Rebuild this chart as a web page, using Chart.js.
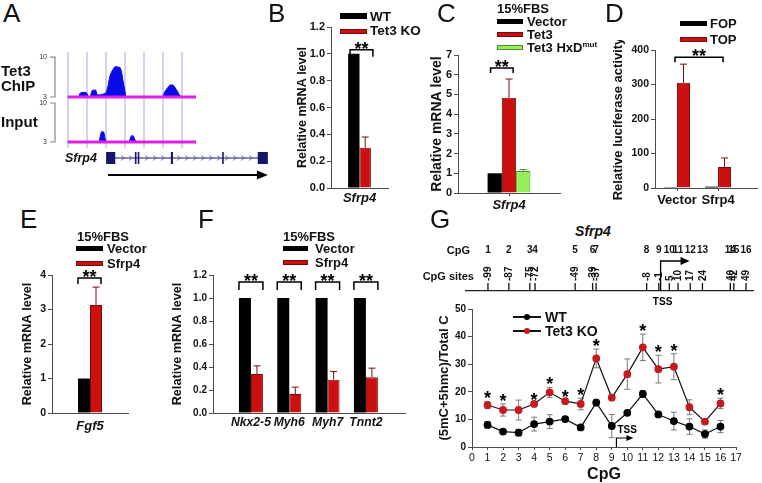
<!DOCTYPE html>
<html>
<head>
<meta charset="utf-8">
<script src="https://cdn.jsdelivr.net/npm/chart.js@4.4.1/dist/chart.umd.min.js"></script>
<style>
  body { margin: 0; background: #fff; }
  #fig { position: relative; width: 762px; height: 483px; overflow: hidden; background: #fff;
         font-family: "Liberation Sans", Arial, sans-serif; color: #111; }
  #fig canvas { position: absolute; }
  .t { position: absolute; line-height: 1; white-space: nowrap; }
  .sw { position: absolute; box-sizing: border-box; }
</style>
</head>
<body>
<div id="fig">
  <canvas id="chip"></canvas>
  <canvas id="input"></canvas>
  <canvas id="gene"></canvas>
  <canvas id="panelB"></canvas>
  <canvas id="panelC"></canvas>
  <canvas id="panelD"></canvas>
  <canvas id="panelE"></canvas>
  <canvas id="panelF"></canvas>
  <canvas id="cpgMap"></canvas>
  <canvas id="panelG"></canvas>
</div>
<script>
// ---------- data ----------

// A: Tet3 ChIP / input signal along the Sfrp4 locus
const trackTicks = [3, 10]
const trackGrid = [0, 10, 20, 30, 40, 50, 60]
const chipPos = [0, 5.8, 6.3, 7.2, 9.6, 10.3, 10.8, 11.9, 12.4, 13.0, 14.7, 15.4, 16.5, 18.5, 20.0, 20.6, 21.3, 22.1, 23.0, 23.9,
                 24.7, 26.2, 27.7, 28.5, 29.1, 30.0, 30.5, 49.8, 50.5, 51.0, 52.0, 53.7, 55.4, 56.5, 57.2, 58.6, 59.8, 67.4]
const chipSignal = [3, 3, 3.6, 3.8, 3.8, 3.5, 3, 3, 3.8, 4.2, 4.2, 3.4, 3.35, 3.5, 3.65, 4.2, 5.2, 6.6, 7.4, 7.9,
                    8.3, 8.3, 8.1, 7.0, 5.7, 4.2, 3, 3, 3.5, 3.9, 4.4, 5.1, 5.1, 4.6, 4.2, 3.4, 3, 3]
const inputPos = [0, 16.5, 17.0, 17.7, 18.9, 19.5, 20.0, 32.3, 32.9, 33.5, 34.4, 35.2, 35.8, 67.4]
const inputSignal = [3, 3, 3.9, 4.85, 4.8, 3.8, 3, 3, 3.7, 4.13, 4.1, 3.5, 3, 3]
const exonStart = [20.1, 35.2, 36.7, 54.1, 81.0, 99.7]
const exonEnd = [24.9, 36.0, 37.5, 55.2, 81.5, 105.0]

// B
const bGenes = ['Sfrp4']
const bWT = [1.0]
const bKO = [0.30]
const bKOErr = [0.08]

// C
const cGenes = ['Sfrp4']
const cVector = [1.0]
const cTet3 = [4.83]
const cTet3Err = [0.95]
const cMut = [1.12]
const cMutErr = [0.07]

// D
const dGroups = ['Vector', 'Sfrp4']
const dFOP = [0.5, 4]
const dTOP = [305, 61]
const dTOPErr = [54, 26]

// E
const eGenes = ['Fgf5']
const eVector = [1.0]
const eSfrp4 = [3.13]
const eSfrp4Err = [0.52]

// F
const fGenes = ['Nkx2-5', 'Myh6', 'Myh7', 'Tnnt2']
const fVector = [1, 1, 1, 1]
const fSfrp4 = [0.34, 0.165, 0.29, 0.31]
const fSfrp4Err = [0.07, 0.06, 0.07, 0.08]

// G
const cpgNum = [1, 2, 3, 4, 5, 6, 7, 8, 9, 10, 11, 12, 13, 14, 15, 16]
const cpgSite = [-99, -87, -75, -72, -49, -39, -37, -8, -1, 5, 10, 17, 24, 40, 42, 49]
const gWT = [8.0, 5.6, 5.2, 8.3, 9.2, 10.1, 7.1, 16.1, 7.6, 12.4, 19.2, 11.8, 9.4, 7.4, 4.7, 7.4]
const gWTErr = [1.2, 0.5, 1.2, 2.5, 2.5, 0.8, 0.8, 1.2, 4.2, 0.5, 1.2, 0.5, 3.2, 2.8, 1.5, 2.2]
const gKO = [15.2, 13.4, 13.4, 15.6, 19.8, 16.6, 15.6, 32.1, 17.9, 26.4, 36.1, 28.2, 29.1, 14.4, 9.2, 15.8]
const gKOErr = [1.3, 2.2, 3.6, 0.5, 1.8, 0.6, 2.1, 3.4, 1.1, 5.5, 4.8, 5.0, 4.7, 2.7, 0.8, 1.9]
const gSignificant = [1, 2, 4, 5, 6, 7, 8, 11, 12, 13, 16]
const tssCpG = 9.3

// ---------- look ----------
const FONT = '"Liberation Sans", Arial, sans-serif'
const RED = '#cc1010', RED_EDGE = '#7a0a0a'
const GREEN = '#93f05a', GREEN_EDGE = '#4c8c2c'
const AXIS = '#4d4d4d'
const BLUE = '#0b0be8', MAGENTA = '#e01ee6', NAVY = '#15156e'

Chart.defaults.animation = false
Chart.defaults.font.family = FONT
Chart.defaults.color = '#111'
Chart.defaults.plugins.legend.display = false
Chart.defaults.plugins.tooltip.enabled = false

const fig = document.getElementById('fig')

// place a canvas so its chart area lands on `area`
function mount(id, area, yW, xH, pad) {
  const c = document.getElementById(id)
  const left = area.l - yW - pad.left
  const top = area.t - pad.top
  const w = area.r + pad.right - left
  const h = area.b + xH + pad.bottom - top
  c.width = w
  c.height = h
  Object.assign(c.style, { left: left + 'px', top: top + 'px', width: w + 'px', height: h + 'px' })
  return c
}

function text(html, x, y, size, opt = {}) {
  const d = document.createElement('div')
  d.className = 't'
  d.innerHTML = html
  d.style.fontSize = size + 'px'
  d.style.top = (y - size / 2) + 'px'
  d.style.fontWeight = opt.bold === false ? 'normal' : 'bold'
  if (opt.italic) d.style.fontStyle = 'italic'
  if (opt.align === 'right') d.style.right = (762 - x) + 'px'
  else if (opt.align === 'center') { d.style.left = x + 'px'; d.style.transform = 'translateX(-50%)' }
  else d.style.left = x + 'px'
  fig.appendChild(d)
}

function swatch(x0, x1, y, color, edge, h = 5) {
  const d = document.createElement('div')
  d.className = 'sw'
  Object.assign(d.style, { left: x0 + 'px', top: (y - h / 2) + 'px', width: (x1 - x0) + 'px', height: h + 'px',
    background: color, border: edge ? '1px solid ' + edge : 'none' })
  fig.appendChild(d)
}

function dot(x, y, r, color) {
  const d = document.createElement('div')
  d.className = 'sw'
  Object.assign(d.style, { left: (x - r) + 'px', top: (y - r) + 'px', width: 2 * r + 'px', height: 2 * r + 'px',
    background: color, borderRadius: '50%' })
  fig.appendChild(d)
}

function valueAxis(min, max, step, tickSize, title, titleSize, width, titleGap, fmt) {
  const lh = titleSize * 1.2
  return {
    min, max,
    ticks: { stepSize: step, font: { size: tickSize, weight: 'bold' }, padding: 2, callback: fmt },
    grid: { drawOnChartArea: false, tickLength: 4, color: AXIS },
    border: { color: AXIS },
    title: { display: true, text: title, font: { size: titleSize, weight: 'bold' },
             padding: { top: width - titleGap - lh / 2, bottom: 0 } },
    afterFit: s => { s.width = width }
  }
}

function catAxis(height, pad, tickMark, italic, size = 13) {
  return {
    grid: { display: tickMark > 0, drawOnChartArea: false, tickLength: tickMark, offset: false, color: AXIS },
    border: { color: AXIS },
    ticks: { font: { size, weight: 'bold', style: italic ? 'italic' : 'normal' }, padding: pad,
             autoSkip: false, maxRotation: 0, minRotation: 0 },
    afterFit: s => { s.height = height }
  }
}

function groupAxis(labels, min, max, height, pad, tickMark, italic, size = 13) {
  const a = catAxis(height, pad, tickMark, italic, size)
  a.type = 'linear'
  a.min = min
  a.max = max
  a.offset = false
  a.ticks.callback = v => labels[v]
  a.afterBuildTicks = s => { s.ticks = labels.map((l, i) => ({ value: i })) }
  return a
}

function bars(label, values, color, edge, errors, linear) {
  return {
    label,
    data: linear ? values.map((v, i) => ({ x: i, y: v })) : values,
    backgroundColor: color,
    borderColor: edge || color,
    borderWidth: edge ? 1 : 0,
    errors,
    errorColor: edge || '#000'
  }
}

const yOf = v => (typeof v === 'object' ? v.y : v)

// upward error bars on bar charts
const errorBars = {
  id: 'errorBars',
  afterDatasetsDraw(chart) {
    const { ctx, scales: { y } } = chart
    chart.data.datasets.forEach((ds, di) => {
      if (!ds.errors) return
      chart.getDatasetMeta(di).data.forEach((bar, i) => {
        const top = y.getPixelForValue(yOf(ds.data[i]) + ds.errors[i])
        ctx.save()
        ctx.strokeStyle = ds.errorColor
        ctx.lineWidth = 1
        ctx.beginPath()
        ctx.moveTo(bar.x, bar.y)
        ctx.lineTo(bar.x, top)
        ctx.moveTo(bar.x - 3.5, top)
        ctx.lineTo(bar.x + 3.5, top)
        ctx.stroke()
        ctx.restore()
      })
    })
  }
}

// significance brackets between two bars
function makeBrackets(cfg) {
  return {
    id: 'brackets',
    afterDatasetsDraw(chart) {
      const { ctx, scales: { y } } = chart
      ctx.save()
      ctx.strokeStyle = '#000'
      ctx.fillStyle = '#000'
      ctx.lineWidth = 1.5
      ctx.font = 'bold 18px ' + FONT
      ctx.textAlign = 'center'
      ctx.textBaseline = 'alphabetic'
      cfg.items.forEach(b => {
        const ends = [b.from, b.to].map(([d, i]) => {
          const ds = chart.data.datasets[d]
          const v = yOf(ds.data[i]) + (ds.errors ? ds.errors[i] : 0)
          return { bar: chart.getDatasetMeta(d).data[i], top: y.getPixelForValue(v) }
        })
        const x0 = ends[0].bar.x - ends[0].bar.width / 2 + cfg.inset[0]
        const x1 = ends[1].bar.x + ends[1].bar.width / 2 - cfg.inset[1]
        const by = Math.min(ends[0].top, ends[1].top) - cfg.gap
        ctx.beginPath()
        ctx.moveTo(x0, by + cfg.leg)
        ctx.lineTo(x0, by)
        ctx.lineTo(x1, by)
        ctx.lineTo(x1, by + cfg.leg)
        ctx.stroke()
        ctx.fillText('**', (x0 + x1) / 2, by + 5)
      })
      ctx.restore()
    }
  }
}

// ---------- panel A: browser tracks ----------
const trackBracket = {
  id: 'trackBracket',
  afterDraw(chart) {
    const { ctx, chartArea: a, scales: { y } } = chart
    const x = a.left - 9
    const t = y.getPixelForValue(trackTicks[1]), b = y.getPixelForValue(trackTicks[0])
    ctx.save()
    ctx.strokeStyle = '#8a8a8a'
    ctx.lineWidth = 1.2
    ctx.beginPath()
    ctx.moveTo(x - 5, t); ctx.lineTo(x, t); ctx.lineTo(x, b); ctx.lineTo(x - 5, b)
    ctx.stroke()
    ctx.restore()
  }
}

function track(id, top, bottom, pos, signal, yMin, yMax) {
  const end = pos[pos.length - 1]
  new Chart(mount(id, { l: 64, r: 196, t: top, b: bottom }, 34, 0, { left: 0, right: 2, top: 7, bottom: 7 }), {
    type: 'scatter',
    data: { datasets: [
      { data: [{ x: pos[0], y: trackTicks[0] }, { x: end, y: trackTicks[0] }], showLine: true, pointRadius: 0,
        borderColor: MAGENTA, borderWidth: 3 },
      { data: pos.map((p, i) => ({ x: p, y: signal[i] })), showLine: true, pointRadius: 0, tension: 0,
        borderColor: BLUE, borderWidth: 1, backgroundColor: BLUE, fill: { value: trackTicks[0] } }
    ] },
    options: {
      responsive: false,
      layout: { padding: { left: 0, right: 2, top: 7, bottom: 7 } },
      scales: {
        x: { type: 'linear', min: -2, max: end,
             ticks: { display: false }, border: { display: false },
             grid: { color: 'rgba(165,165,235,0.5)', lineWidth: 2, drawTicks: false },
             afterBuildTicks: s => { s.ticks = trackGrid.map(v => ({ value: v })) },
             afterFit: s => { s.height = 0 } },
        y: { min: yMin, max: yMax,
             ticks: { font: { size: 7 }, color: '#333', padding: 2 },
             grid: { drawOnChartArea: false, tickLength: 15, color: 'rgba(0,0,0,0)' },
             border: { display: false },
             afterBuildTicks: s => { s.ticks = trackTicks.map(v => ({ value: v })) },
             afterFit: s => { s.width = 34 } }
      }
    },
    plugins: [trackBracket]
  })
}
track('chip', 52, 100, chipPos, chipSignal, 2.47, 10.9)
track('input', 100, 148, inputPos, inputSignal, 1.92, 10.54)

const geneModel = {
  id: 'geneModel',
  afterDraw(chart) {
    const { ctx, scales: { x, y } } = chart
    const gy = y.getPixelForValue(0.73), ay = y.getPixelForValue(0.27)
    const g0 = x.getPixelForValue(exonStart[0]), g1 = x.getPixelForValue(exonEnd[exonEnd.length - 1])
    const spans = exonStart.map((s, i) => [x.getPixelForValue(s), x.getPixelForValue(exonEnd[i])])
    ctx.save()
    ctx.strokeStyle = NAVY
    ctx.lineWidth = 1.2
    ctx.beginPath(); ctx.moveTo(g0, gy); ctx.lineTo(g1, gy); ctx.stroke()
    ctx.strokeStyle = '#5555a8'
    ctx.lineWidth = 0.9
    for (let px = g0 + 9; px < g1 - 4; px += 8) {
      if (spans.some(([a, b]) => px > a - 3 && px < b + 3)) continue
      ctx.beginPath(); ctx.moveTo(px - 2, gy - 2.5); ctx.lineTo(px + 1, gy); ctx.lineTo(px - 2, gy + 2.5); ctx.stroke()
    }
    ctx.fillStyle = NAVY
    spans.forEach(([a, b]) => ctx.fillRect(a, gy - 6, Math.max(b - a, 1.6), 12))
    ctx.strokeStyle = '#000'
    ctx.fillStyle = '#000'
    ctx.lineWidth = 2
    ctx.beginPath(); ctx.moveTo(g0 + 2, ay); ctx.lineTo(g1 - 8, ay); ctx.stroke()
    ctx.beginPath(); ctx.moveTo(g1, ay); ctx.lineTo(g1 - 11, ay - 4.5); ctx.lineTo(g1 - 11, ay + 4.5); ctx.closePath(); ctx.fill()
    ctx.restore()
  }
}
new Chart(mount('gene', { l: 64, r: 269, t: 148, b: 185 }, 0, 0, { left: 0, right: 0, top: 0, bottom: 0 }), {
  type: 'scatter',
  data: { datasets: [] },
  options: {
    responsive: false,
    scales: { x: { type: 'linear', min: -2, max: 105.6, display: false }, y: { min: 0, max: 1, display: false } }
  },
  plugins: [geneModel]
})

// ---------- panel B ----------
new Chart(mount('panelB', { l: 331, r: 388, t: 27, b: 188 }, 36, 24, { left: 2, right: 2, top: 10, bottom: 0 }), {
  type: 'bar',
  data: { labels: bGenes, datasets: [bars('WT', bWT, '#000'), bars('Tet3 KO', bKO, RED, RED_EDGE, bKOErr)] },
  options: {
    responsive: false,
    layout: { padding: { left: 2, right: 2, top: 10, bottom: 0 } },
    datasets: { bar: { categoryPercentage: 0.4, barPercentage: 1 } },
    scales: {
      x: catAxis(24, 3, 0, true),
      y: valueAxis(0, 1.2, 0.2, 11, 'Relative mRNA level', 12.5, 36, 28, v => v.toFixed(1))
    }
  },
  plugins: [errorBars, makeBrackets({ items: [{ from: [0, 0], to: [1, 0] }], gap: 4, leg: 7, inset: [2, -2] })]
})

// ---------- panel C ----------
new Chart(mount('panelC', { l: 458, r: 560, t: 55, b: 193 }, 30, 24, { left: 2, right: 2, top: 10, bottom: 0 }), {
  type: 'bar',
  data: { labels: cGenes, datasets: [
    bars('Vector', cVector, '#000'),
    bars('Tet3', cTet3, RED, RED_EDGE, cTet3Err),
    bars('Tet3 HxDmut', cMut, GREEN, GREEN_EDGE, cMutErr)
  ] },
  options: {
    responsive: false,
    layout: { padding: { left: 2, right: 2, top: 10, bottom: 0 } },
    datasets: { bar: { categoryPercentage: 0.42, barPercentage: 1 } },
    scales: {
      x: catAxis(24, 2, 3, true),
      y: valueAxis(0, 7, 1, 11, 'Relative mRNA level', 14, 30, 21, v => v)
    }
  },
  plugins: [errorBars, makeBrackets({ items: [{ from: [0, 0], to: [1, 0] }], gap: 11, leg: 5, inset: [3, 3] })]
})

// ---------- panel D ----------
new Chart(mount('panelD', { l: 655, r: 757, t: 50, b: 188 }, 45, 24, { left: 2, right: 3, top: 10, bottom: 0 }), {
  type: 'bar',
  data: { datasets: [bars('FOP', dFOP, '#000', null, null, true), bars('TOP', dTOP, RED, RED_EDGE, dTOPErr, true)] },
  options: {
    responsive: false,
    layout: { padding: { left: 2, right: 3, top: 10, bottom: 0 } },
    datasets: { bar: { categoryPercentage: 0.634, barPercentage: 1 } },
    scales: {
      x: groupAxis(dGroups, -0.537, 1.95, 24, 2, 3, false),
      y: valueAxis(0, 400, 100, 10.5, 'Relative luciferase activity', 13, 45, 37, v => v)
    }
  },
  plugins: [errorBars, makeBrackets({ items: [{ from: [1, 0], to: [1, 1] }], gap: 7, leg: 5, inset: [-2, 8] })]
})

// ---------- panel E ----------
new Chart(mount('panelE', { l: 52, r: 128, t: 275, b: 413 }, 33, 26, { left: 2, right: 2, top: 10, bottom: 0 }), {
  type: 'bar',
  data: { labels: eGenes, datasets: [bars('Vector', eVector, '#000'), bars('Sfrp4', eSfrp4, RED, RED_EDGE, eSfrp4Err)] },
  options: {
    responsive: false,
    layout: { padding: { left: 2, right: 2, top: 10, bottom: 0 } },
    datasets: { bar: { categoryPercentage: 0.316, barPercentage: 1 } },
    scales: {
      x: catAxis(26, 6, 0, true),
      y: valueAxis(0, 4, 1, 10.5, 'Relative mRNA level', 12.7, 33, 25, v => v)
    }
  },
  plugins: [errorBars, makeBrackets({ items: [{ from: [0, 0], to: [1, 0] }], gap: 9, leg: 6, inset: [0, 1] })]
})

// ---------- panel F ----------
new Chart(mount('panelF', { l: 213, r: 405, t: 275, b: 413 }, 44, 24, { left: 2, right: 2, top: 10, bottom: 0 }), {
  type: 'bar',
  data: { datasets: [bars('Vector', fVector, '#000', null, null, true), bars('Sfrp4', fSfrp4, RED, RED_EDGE, fSfrp4Err, true)] },
  options: {
    responsive: false,
    layout: { padding: { left: 2, right: 2, top: 10, bottom: 0 } },
    datasets: { bar: { categoryPercentage: 0.626, barPercentage: 1 } },
    scales: {
      x: groupAxis(fGenes, -0.99, 4.02, 24, 2, 0, true, 12.2),
      y: valueAxis(0, 1.2, 0.2, 10, 'Relative mRNA level', 12.7, 44, 36, v => v.toFixed(1))
    }
  },
  plugins: [errorBars, makeBrackets({
    items: fGenes.map((g, i) => ({ from: [0, i], to: [1, i] })), gap: 16, leg: 8, inset: [0, 0] })]
})

// ---------- panel G: CpG map ----------
const siteLabels = {
  id: 'siteLabels',
  afterDatasetsDraw(chart) {
    const { ctx, chartArea: a, scales: { x } } = chart
    ctx.save()
    ctx.fillStyle = '#111'
    ctx.font = 'bold 10px ' + FONT
    cpgSite.forEach((s, i) => {
      const px = x.getPixelForValue(s)
      ctx.save()
      ctx.translate(px, a.top - 2)
      ctx.rotate(-Math.PI / 2)
      ctx.textAlign = 'left'
      ctx.textBaseline = 'middle'
      ctx.fillText(String(s), 0, 0.5)
      ctx.restore()
      ctx.textAlign = 'center'
      ctx.textBaseline = 'middle'
      ctx.fillText(String(cpgNum[i]), px, a.top - 33)
    })
    const t = x.getPixelForValue(0)
    ctx.strokeStyle = '#000'
    ctx.fillStyle = '#000'
    ctx.lineWidth = 1.3
    ctx.beginPath(); ctx.moveTo(t, a.bottom); ctx.lineTo(t, a.top - 22); ctx.lineTo(t + 21, a.top - 22); ctx.stroke()
    ctx.beginPath(); ctx.moveTo(t + 29, a.top - 22); ctx.lineTo(t + 20, a.top - 26); ctx.lineTo(t + 20, a.top - 18); ctx.closePath(); ctx.fill()
    ctx.textAlign = 'center'
    ctx.textBaseline = 'middle'
    ctx.fillText('TSS', t + 2, a.bottom + 11)
    ctx.restore()
  }
}
new Chart(mount('cpgMap', { l: 462, r: 755, t: 283, b: 291 }, 0, 0, { left: 2, right: 4, top: 43, bottom: 19 }), {
  type: 'scatter',
  data: { datasets: [{ data: cpgSite.map(s => ({ x: s, y: 0.5 })), pointStyle: 'line', rotation: 90, pointRadius: 4,
                       borderColor: '#111', borderWidth: 1.3, clip: false }] },
  options: {
    responsive: false,
    layout: { padding: { left: 2, right: 4, top: 43, bottom: 19 } },
    scales: {
      x: { type: 'linear', min: -112, max: 53.4, ticks: { display: false }, grid: { display: false },
           border: { color: '#222', width: 1.2 }, afterFit: s => { s.height = 0 } },
      y: { min: 0, max: 1, display: false }
    }
  },
  plugins: [siteLabels]
})

// ---------- panel G: methylation ----------
const pointErrors = {
  id: 'pointErrors',
  beforeDatasetsDraw(chart) {
    const { ctx, scales: { y } } = chart
    ctx.save()
    ctx.strokeStyle = '#7a7a7a'
    ctx.lineWidth = 1
    chart.data.datasets.forEach((ds, di) => {
      chart.getDatasetMeta(di).data.forEach((pt, i) => {
        const v = ds.data[i].y, e = ds.errors[i]
        const t = y.getPixelForValue(v + e), b = y.getPixelForValue(v - e)
        ctx.beginPath()
        ctx.moveTo(pt.x, t); ctx.lineTo(pt.x, b)
        ctx.moveTo(pt.x - 3, t); ctx.lineTo(pt.x + 3, t)
        ctx.moveTo(pt.x - 3, b); ctx.lineTo(pt.x + 3, b)
        ctx.stroke()
      })
    })
    ctx.restore()
  }
}
const stars = {
  id: 'stars',
  afterDatasetsDraw(chart) {
    const { ctx, scales: { x, y } } = chart
    const ds = chart.data.datasets[0]
    ctx.save()
    ctx.font = 'bold 18px ' + FONT
    ctx.textAlign = 'center'
    ctx.textBaseline = 'alphabetic'
    ctx.fillStyle = '#000'
    gSignificant.forEach(c => {
      const i = ds.data.findIndex(p => p.x === c)
      ctx.fillText('*', x.getPixelForValue(c), y.getPixelForValue(ds.data[i].y + ds.errors[i]) + 3)
    })
    ctx.restore()
  }
}
const tssMark = {
  id: 'tssMark',
  afterDatasetsDraw(chart) {
    const { ctx, chartArea: a, scales: { x } } = chart
    const px = x.getPixelForValue(tssCpG)
    ctx.save()
    ctx.strokeStyle = '#000'
    ctx.fillStyle = '#000'
    ctx.lineWidth = 1.2
    ctx.beginPath(); ctx.moveTo(px, a.bottom); ctx.lineTo(px, a.bottom - 9); ctx.lineTo(px + 11, a.bottom - 9); ctx.stroke()
    ctx.beginPath(); ctx.moveTo(px + 17, a.bottom - 9); ctx.lineTo(px + 10, a.bottom - 12); ctx.lineTo(px + 10, a.bottom - 6); ctx.closePath(); ctx.fill()
    ctx.font = 'bold 10px ' + FONT
    ctx.textAlign = 'left'
    ctx.textBaseline = 'middle'
    ctx.fillText('TSS', px + 1, a.bottom - 17)
    ctx.restore()
  }
}
new Chart(mount('panelG', { l: 472, r: 736, t: 309, b: 447 }, 36, 37, { left: 2, right: 10, top: 10, bottom: 0 }), {
  type: 'scatter',
  data: { datasets: [
    { label: 'Tet3 KO', data: cpgNum.map((c, i) => ({ x: c, y: gKO[i] })), errors: gKOErr, showLine: true,
      borderColor: '#111', borderWidth: 1.2, pointRadius: 3.3, pointBackgroundColor: '#c8191e', pointBorderColor: '#c8191e' },
    { label: 'WT', data: cpgNum.map((c, i) => ({ x: c, y: gWT[i] })), errors: gWTErr, showLine: true,
      borderColor: '#111', borderWidth: 1.2, pointRadius: 3.3, pointBackgroundColor: '#000', pointBorderColor: '#000' }
  ] },
  options: {
    responsive: false,
    layout: { padding: { left: 2, right: 10, top: 10, bottom: 0 } },
    scales: {
      x: { type: 'linear', min: 0, max: 17,
           ticks: { stepSize: 1, font: { size: 10.5 }, padding: 2, autoSkip: false, maxRotation: 0 },
           grid: { drawOnChartArea: false, tickLength: 3, color: AXIS },
           border: { color: AXIS },
           title: { display: true, text: 'CpG', font: { size: 16, weight: 'bold' }, padding: { top: 0, bottom: 0 } },
           afterFit: s => { s.height = 37 } },
      y: valueAxis(0, 50, 10, 10, '(5mC+5hmc)/Total C', 13, 36, 28, v => v)
    }
  },
  plugins: [pointErrors, stars, tssMark]
})

// ---------- text, legends ----------
text('A', 3, 12.5, 26, { bold: false })
text('B', 268, 12.5, 26, { bold: false })
text('C', 437, 12.5, 26, { bold: false })
text('D', 605, 12.5, 26, { bold: false })
text('E', 20, 219, 26, { bold: false })
text('F', 198, 219, 26, { bold: false })
text('G', 430, 219, 26, { bold: false })

text('Tet3', 1, 70, 15)
text('ChIP', 1, 85, 15)
text('Input', 1, 121, 15)
text('Sfrp4', 65, 158, 12.5, { italic: true })

swatch(340, 367, 16, '#000', null, 6)
swatch(340, 367, 31, RED, RED_EDGE)
text('WT', 370, 17, 13.5)
text('Tet3 KO', 370, 31, 13.5)

text('15%FBS', 497, 8, 13)
swatch(497, 523, 21, '#000')
swatch(497, 523, 34, RED, RED_EDGE)
swatch(497, 523, 47, GREEN, GREEN_EDGE)
text('Vector', 527, 21, 13)
text('Tet3', 527, 34, 13)
text('Tet3 HxD<span style="font-size:0.62em;position:relative;top:-0.5em">mut</span>', 527, 47, 13)

swatch(680, 707, 23, '#000')
swatch(680, 707, 39, RED, RED_EDGE)
text('FOP', 710, 23, 13)
text('TOP', 710, 39, 13)

text('15%FBS', 77, 236, 13)
swatch(76, 103, 248, '#000')
swatch(76, 103, 263, RED, RED_EDGE)
text('Vector', 107, 248, 13)
text('Sfrp4', 107, 263, 13)

text('15%FBS', 283, 236, 13)
swatch(283, 308, 248, '#000')
swatch(283, 308, 262, RED, RED_EDGE)
text('Vector', 315, 248, 13)
text('Sfrp4', 315, 262, 13)

text('Sfrp4', 593, 231, 14, { italic: true, align: 'center' })
text('CpG', 470, 250, 11, { align: 'right' })
text('CpG sites', 474, 276, 11, { align: 'right' })

swatch(513, 541, 317, '#111', null, 1.5)
dot(527, 317, 3.3, '#000')
text('WT', 545, 317, 14)
swatch(513, 541, 331, '#111', null, 1.5)
dot(527, 331, 3.3, '#c8191e')
text('Tet3 KO', 545, 331, 14)
</script>
</body>
</html>
